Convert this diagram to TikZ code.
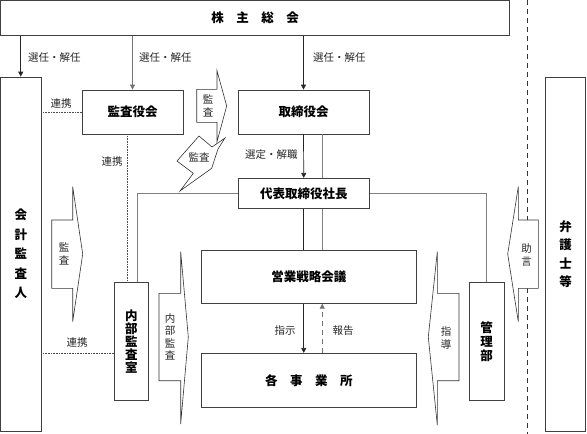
\documentclass[tikz,border=0pt]{standalone}
\usepackage{fontspec}
\setmainfont{Noto Sans CJK JP}
\usetikzlibrary{arrows.meta}
\begin{document}
\begin{tikzpicture}[x=1pt,y=-1pt,
 box/.style={draw=black!75,line width=0.7pt,fill=white,inner sep=0pt,font=\fontsize{12.5}{14}\selectfont\bfseries,align=center},
 vbox/.style={box,font=\fontsize{12.5}{#1}\selectfont\bfseries},
 lbl/.style={font=\fontsize{10.5}{12}\selectfont,text=black!85,inner sep=0pt},
 vlbl/.style={font=\fontsize{10.5}{12.5}\selectfont,text=black!85,inner sep=0pt,align=center},
 ln/.style={draw=black!85,line width=0.7pt},
 gln/.style={draw=black!50,line width=0.8pt},
 arr/.style={ln,-{Triangle[length=5pt,width=5pt]}},
 barrow/.style={draw=black!80,line width=0.6pt,fill=white,line join=miter},
 link/.style={draw=black!70,line width=0.6pt,densely dotted},
]
\useasboundingbox (0,0) rectangle (587,434);
% dashed divider
\coordinate (dtop) at (527,0);
\coordinate (dbot) at (527,434);
\draw[draw=black!80,line width=0.7pt,dash pattern=on 5pt off 4pt] (dtop) -- (dbot);

% boxes
\node[box,minimum width=509pt,minimum height=35pt] (kabu) at (255,18) {株\hspace{1em}主\hspace{1em}総\hspace{1em}会};
\node[vbox=19.5,minimum width=40.5pt,minimum height=354pt] (kaikei) at (20.75,254) {会\\計\\監\\査\\人};
\node[box,minimum width=101pt,minimum height=44pt] (kansayaku) at (132.5,112) {監査役会};
\node[box,minimum width=131pt,minimum height=44pt] (torishimari) at (303.5,112) {取締役会};
\node[box,minimum width=131pt,minimum height=30pt] (daihyo) at (303.75,193.3) {代表取締役社長};
\node[box,minimum width=214.3pt,minimum height=53.3pt] (eigyo) at (308.85,276.7) {営業戦略会議};
\node[box,minimum width=214.3pt,minimum height=54pt] (kaku) at (308.85,380.3) {各\hspace{1em}事\hspace{1em}業\hspace{1em}所};
\node[vbox=13.2,minimum width=34pt,minimum height=118.4pt] (naibu) at (131.3,341.5) {内\\部\\監\\査\\室};
\node[vbox=14,minimum width=34.7pt,minimum height=117.3pt] (kanri) at (486.65,341.3) {管\\理\\部};
\node[vbox=18.5,minimum width=40pt,minimum height=354pt] (bengo) at (565.7,254) {弁\\護\\士\\等};

% appointment arrows
\draw[arr] (kaikei.north |- kabu.south) -- (kaikei.north);
\draw[arr,draw=black!55] (kansayaku.north |- kabu.south) -- (kansayaku.north);
\draw[arr] (torishimari.north |- kabu.south) -- (torishimari.north);
\draw[arr] (torishimari.south) -- (daihyo.north);
\draw[gln] ([xshift=18.5pt]torishimari.south) -- ([xshift=18.5pt]torishimari.south |- daihyo.north);
\draw[gln] ([xshift=18.5pt]torishimari.south |- daihyo.south) -- ([xshift=18.5pt]torishimari.south |- eigyo.north);
\draw[ln] (daihyo.south) -- (daihyo.south |- eigyo.north);
\coordinate (lcorner) at (137.3,193.3);
\coordinate (rcorner) at (486.65,193.3);
\draw[gln] (daihyo.west) -- (lcorner) -- (lcorner |- naibu.north);
\draw[gln] (daihyo.east) -- (rcorner) -- (kanri.north);

% cooperation links
\draw[link] (kansayaku.west -| kaikei.east) -- (kansayaku.west);
\draw[link] ([xshift=-5pt]kansayaku.south) -- ([xshift=-5pt]kansayaku.south |- naibu.north);
\draw[link] ([yshift=-11.8pt]naibu.west -| kaikei.east) -- ([yshift=-11.8pt]naibu.west);

% instruction / report
\draw[arr] (eigyo.south -| daihyo.south) -- (kaku.north -| daihyo.south);
\draw[draw=black!55,line width=0.8pt,dash pattern=on 5pt off 4pt,-{Triangle[length=5pt,width=5pt]}] ([xshift=18.5pt]kaku.north -| daihyo.south) -- ([xshift=18.5pt]eigyo.south -| daihyo.south);

% labels
\node[lbl,anchor=west] (l1) at (28,58) {選任・解任};
\node[lbl,anchor=west] (l2) at (139,58) {選任・解任};
\node[lbl,anchor=west] (l3) at (313,58) {選任・解任};
\node[lbl] (l4) at (61,104) {連携};
\node[lbl] (l5) at (112,162) {連携};
\node[lbl] (l6) at (77,343) {連携};
\node[lbl,anchor=west] (l7) at (245,155) {選定・解職};
\node[lbl] (l8) at (285,331) {指示};
\node[lbl] (l9) at (343,331) {報告};

% block arrows
\draw[barrow] (196.7,89.3) -- (217,89.3) -- (217,70.7) -- (226.7,106) -- (217,141.7) -- (217,122.3) -- (196.7,122.3) -- cycle;
\node[vlbl] (t1) at (208,106) {監\\査};
\draw[barrow] (51.7,220) -- (72.7,220) -- (72.7,186.7) -- (82.7,254) -- (72.7,321.7) -- (72.7,288.3) -- (51.7,288.3) -- cycle;
\node[vlbl] (t2) at (64,254) {監\\査};
\draw[barrow] (159,293.3) -- (180.7,293.3) -- (180.7,251.7) -- (188.3,337) -- (180.7,424) -- (180.7,380.7) -- (159,380.7) -- cycle;
\node[vlbl] (t3) at (170,337) {内\\部\\監\\査};
\draw[barrow] (459,293.3) -- (437.3,293.3) -- (437.3,251.7) -- (428.3,337) -- (437.3,425) -- (437.3,380.7) -- (459,380.7) -- cycle;
\node[vlbl] (t4) at (446,338) {指\\導};
\draw[barrow] (538.3,220) -- (518.3,220) -- (518.3,186.7) -- (507.7,254) -- (518.3,321.7) -- (518.3,288.3) -- (538.3,288.3) -- cycle;
\node[vlbl] (t5) at (526.5,255) {助\\言};
% lightning audit
\draw[barrow] (177,161) -- (199,136) -- (212,147) -- (225,138) -- (218,149) -- (211.7,168.3) -- (180,191) -- (193.3,173.3) -- cycle;
\node[lbl] (t6) at (199,157) {監査};
\end{tikzpicture}
\end{document}
